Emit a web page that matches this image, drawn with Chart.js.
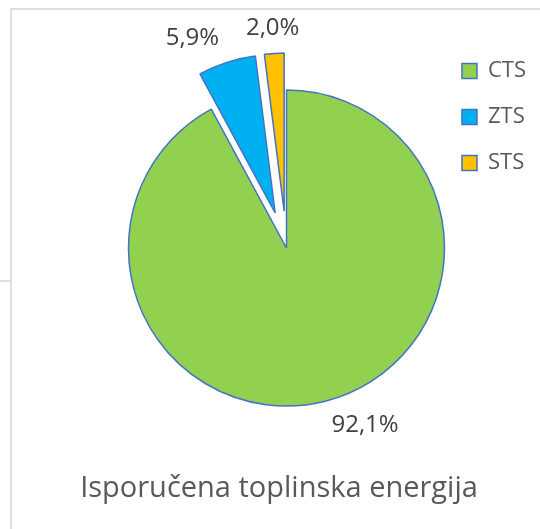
<!DOCTYPE html>
<html>
<head>
    <meta charset="UTF-8">
    <title>Isporučena toplinska energija</title>
    <script src="https://cdn.jsdelivr.net/npm/chart.js"></script>
    <style>
        body { margin: 0; background: #fff; }
        #wrap { position: relative; width: 540px; height: 529px; }
        #frame { position: absolute; left: 10px; top: 8px; right: 0; bottom: 0;
                 border-top: 2px solid #dedede; border-left: 2px solid #dedede; }
        #stub { position: absolute; left: 0; top: 280px; width: 10px; height: 2px; background: #dedede; }
        #statsChart { position: absolute; left: 0; top: 0; }
    </style>
</head>
<body>
    <div id="wrap">
        <div id="frame"></div>
        <div id="stub"></div>
        <canvas id="statsChart" width="540" height="529"></canvas>
    </div>
    <script>
        // data
        var labels = ['CTS', 'ZTS', 'STS'];
        var shares = [92.1, 5.9, 2.0];
        var colors = ['#92D050', '#00B0F0', '#FFC000'];
        var chartTitle = 'Isporučena toplinska energija';

        function pct(v, total) {
            return (v / total * 100).toFixed(1).replace('.', ',') + '%';
        }

        // pull slices out without growing them (built-in offset also enlarges the arc)
        var pullSlices = {
            id: 'pullSlices',
            beforeDatasetDraw: function (chart, args, opts) {
                var ctx = chart.ctx;
                args.meta.data.forEach(function (arc, i) {
                    var p = arc.getProps(['startAngle', 'endAngle'], true);
                    var mid = (p.startAngle + p.endAngle) / 2;
                    var d = opts.distance[i] || 0;
                    ctx.save();
                    ctx.translate(Math.cos(mid) * d, Math.sin(mid) * d);
                    arc.draw(ctx);
                    ctx.restore();
                });
                return false;
            }
        };

        // percentage labels just outside each slice
        var sliceLabels = {
            id: 'sliceLabels',
            afterDatasetsDraw: function (chart) {
                var ctx = chart.ctx;
                var meta = chart.getDatasetMeta(0);
                var pull = chart.options.plugins.pullSlices.distance;
                var total = shares.reduce(function (a, b) { return a + b; }, 0);
                ctx.save();
                ctx.font = '24px "Open Sans"';
                ctx.fillStyle = '#404040';
                ctx.textBaseline = 'middle';
                meta.data.forEach(function (arc, i) {
                    var p = arc.getProps(['x', 'y', 'startAngle', 'endAngle', 'outerRadius'], true);
                    var mid = (p.startAngle + p.endAngle) / 2;
                    var dist = p.outerRadius + (pull[i] || 0) + 25;
                    var c = Math.cos(mid);
                    ctx.textAlign = Math.abs(c) < 0.15 ? 'center' : (c > 0 ? 'left' : 'right');
                    ctx.fillText(pct(shares[i], total), p.x + c * dist, p.y + Math.sin(mid) * dist);
                });
                ctx.restore();
            }
        };

        // title under the pie, centred a bit left of the pie like the original
        var bottomTitle = {
            id: 'bottomTitle',
            afterDraw: function (chart) {
                var ctx = chart.ctx;
                ctx.save();
                ctx.font = '29px "Open Sans"';
                ctx.fillStyle = '#595959';
                ctx.textAlign = 'center';
                ctx.textBaseline = 'middle';
                ctx.fillText(chartTitle, 279, 488.5);
                ctx.restore();
            }
        };

        var ctx = document.getElementById('statsChart').getContext('2d');
        var statsChart = new Chart(ctx, {
            type: 'pie',
            data: {
                labels: labels,
                datasets: [{
                    data: shares,
                    backgroundColor: colors,
                    borderColor: '#4472C4',
                    borderWidth: 1.5,
                    radius: 158
                }]
            },
            options: {
                responsive: false,
                animation: false,
                layout: { padding: { top: 36, left: 135, right: 4, bottom: 69 } },
                plugins: {
                    tooltip: { enabled: false },
                    title: { display: false },
                    pullSlices: { distance: [0, 37, 37] },
                    legend: {
                        position: 'right',
                        align: 'start',
                        labels: {
                            boxWidth: 15,
                            boxHeight: 15,
                            padding: 24,
                            color: '#595959',
                            font: { family: 'Open Sans', size: 22 }
                        }
                    }
                }
            },
            plugins: [pullSlices, sliceLabels, bottomTitle]
        });
    </script>
</body>
</html>
